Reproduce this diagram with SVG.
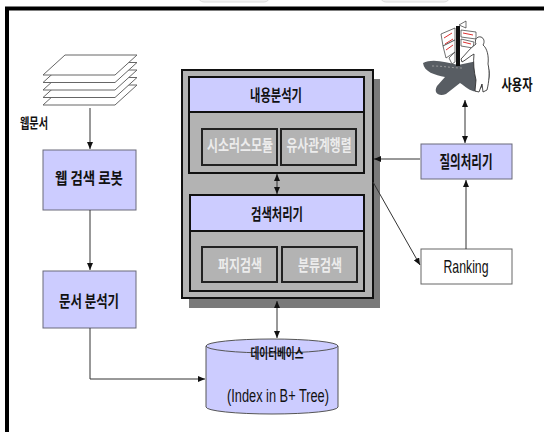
<svg xmlns="http://www.w3.org/2000/svg" width="544" height="432" viewBox="0 0 544 432">
  <defs>
    <marker id="arr" markerWidth="7" markerHeight="6" refX="7" refY="3" orient="auto-start-reverse" markerUnits="userSpaceOnUse">
      <path d="M0,0 L7,3 L0,6 z" fill="#111"/>
    </marker>
    <style>
      .lav { fill: #ccccff; stroke: #6a6a7a; stroke-width: 1; }
      .panel { fill: #b3b3b3; stroke: #111; stroke-width: 2; }
      .grp { fill: none; stroke: #111; stroke-width: 2; }
      .sub { fill: #b3b3b3; stroke: #222; stroke-width: 2; }
      .ko { font-family: "Noto Sans CJK KR", "DejaVu Sans", sans-serif; font-weight: 700; fill: #111; text-anchor: middle; }
      .sk { font-family: "Noto Sans CJK KR", "DejaVu Sans", sans-serif; font-weight: 700; fill: #ececec; text-anchor: middle; }
      .en { font-family: "Liberation Sans Narrow", "Liberation Sans", sans-serif; fill: #111; text-anchor: middle; }
      .page { fill: #fff; stroke: #666; stroke-width: 1; }
      .conn { fill: none; stroke: #333; stroke-width: 1; }
    </style>
  </defs>

  <rect width="544" height="432" fill="#fff"/>

  <!-- faint tabs at the top edge -->
  <rect x="198" y="-10" width="72" height="12" rx="6" fill="#f2f2f2" stroke="#dcdcdc"/>
  <rect x="380" y="-10" width="70" height="12" rx="6" fill="#f2f2f2" stroke="#dcdcdc"/>

  <!-- frame -->
  <path d="M7,432 V8.5 H544" fill="none" stroke="#000" stroke-width="4"/>

  <!-- web documents stack -->
  <g id="web-docs">
    <polygon class="page" points="65,85 137,85 115,105 43,105"/>
    <polygon class="page" points="65,77.5 137,77.5 115,97.5 43,97.5"/>
    <polygon class="page" points="65,70 137,70 115,90 43,90"/>
    <polygon class="page" points="65,62.5 137,62.5 115,82.5 43,82.5"/>
    <polygon class="page" points="65,55 137,55 115,75 43,75"/>
    <text class="ko" x="34" y="128" font-size="14" textLength="28" lengthAdjust="spacingAndGlyphs">웹문서</text>
  </g>

  <g id="web-robot">
    <rect class="lav" x="43" y="150" width="93" height="60"/>
    <text class="ko" x="89" y="184" font-size="16" textLength="68" lengthAdjust="spacingAndGlyphs">웹 검색 로봇</text>
  </g>

  <g id="doc-analyzer">
    <rect class="lav" x="43" y="271" width="93" height="57"/>
    <text class="ko" x="89" y="307" font-size="16" textLength="60" lengthAdjust="spacingAndGlyphs">문서 분석기</text>
  </g>

  <!-- central engine panel -->
  <g id="engine">
    <rect x="189" y="79" width="191" height="229" fill="#7a7a7a"/>
    <rect class="panel" x="182" y="70" width="191" height="228"/>

    <g id="content-analyzer">
      <rect class="lav" x="189" y="77" width="175" height="35" style="stroke:#111;stroke-width:2"/>
      <rect class="grp" x="189" y="77" width="175" height="96"/>
      <text class="ko" x="276" y="101" font-size="16" textLength="52" lengthAdjust="spacingAndGlyphs">내용분석기</text>
      <rect class="sub" x="202" y="129" width="75" height="36"/>
      <text class="sk" x="240" y="151" font-size="16" textLength="66" lengthAdjust="spacingAndGlyphs">시소러스모듈</text>
      <rect class="sub" x="281" y="129" width="75" height="36"/>
      <text class="sk" x="319" y="151" font-size="16" textLength="65" lengthAdjust="spacingAndGlyphs">유사관계행렬</text>
    </g>

    <g id="search-processor">
      <rect class="lav" x="190" y="195" width="174" height="36" style="stroke:#111;stroke-width:2"/>
      <rect class="grp" x="190" y="195" width="174" height="96"/>
      <text class="ko" x="277" y="220" font-size="16" textLength="52" lengthAdjust="spacingAndGlyphs">검색처리기</text>
      <rect class="sub" x="202" y="247" width="75" height="35"/>
      <text class="sk" x="240" y="271" font-size="16" textLength="44" lengthAdjust="spacingAndGlyphs">퍼지검색</text>
      <rect class="sub" x="282" y="247" width="75" height="35"/>
      <text class="sk" x="320" y="271" font-size="16" textLength="44" lengthAdjust="spacingAndGlyphs">분류검색</text>
    </g>
  </g>

  <!-- database cylinder -->
  <g id="database">
    <path d="M206,346 V407 A66,7 0 0 0 338,407 V346" fill="#ccccff" stroke="#555" stroke-width="1"/>
    <ellipse cx="272" cy="346" rx="66" ry="7" fill="#ccccff" stroke="#555" stroke-width="1"/>
    <text class="ko" x="277" y="358" font-size="14" textLength="53" lengthAdjust="spacingAndGlyphs">데이터베이스</text>
    <text class="en" x="278" y="402" font-size="18" textLength="102" lengthAdjust="spacingAndGlyphs">(Index in B+ Tree)</text>
  </g>

  <!-- user clip-art -->
  <g id="user">
    <!-- ground shadow -->
    <path d="M423,63 C432,58 446,62 458,65 L482,60 C489,62 491,72 489,80 L478,91 C472,93 466,87 460,83 L446,94 C439,97 433,93 437,86 L445,77 C435,75 424,72 423,63 z" fill="#585d63"/>
    <path d="M432,66 C444,66 452,68 462,68" fill="none" stroke="#aaa" stroke-width="0.8" stroke-dasharray="2,2"/>
    <!-- signpost -->
    <rect x="456" y="26" width="4" height="40" fill="#111"/>
    <polygon points="441,34 455,28 455,40 443,46" fill="#fff" stroke="#333" stroke-width="0.7"/>
    <polygon points="443,46 455,40 455,52 446,58" fill="#fff" stroke="#333" stroke-width="0.7"/>
    <polygon points="449,58 455,52 455,62 452,64" fill="#fff" stroke="#333" stroke-width="0.7"/>
    <polygon points="461,30 476,32 476,39 461,37" fill="#fff" stroke="#333" stroke-width="0.7"/>
    <polygon points="461,39 474,42 473,48 461,46" fill="#fff" stroke="#333" stroke-width="0.7"/>
    <polygon points="459,25 466,21 466,28" fill="#fff" stroke="#333" stroke-width="0.7"/>
    <path d="M444,38 L452,33 M445,44 L453,39 M446,50 L453,45 M463,33 L473,35 M463,42 L471,44" stroke="#d33" stroke-width="1"/>
    <!-- person -->
    <path d="M476,44 C474,40 477,36 481,37 C484,38 485,42 483,45 C487,48 489,56 488,64 C490,72 489,82 487,90 L483,92 L482,84 L479,92 L475,91 L476,80 C474,72 473,62 474,54 C470,56 466,60 462,62 L461,59 C466,54 470,48 476,44 z" fill="#fff" stroke="#222" stroke-width="0.8"/>
    <text class="ko" x="517" y="90" font-size="15" textLength="31" lengthAdjust="spacingAndGlyphs">사용자</text>
  </g>

  <g id="query-processor">
    <rect class="lav" x="421" y="144" width="91" height="35"/>
    <text class="ko" x="466" y="168" font-size="17" textLength="53" lengthAdjust="spacingAndGlyphs">질의처리기</text>
  </g>

  <g id="ranking">
    <rect x="421" y="249" width="91" height="35" fill="#fff" stroke="#666" stroke-width="1"/>
    <text class="en" x="466" y="273" font-size="19" textLength="45" lengthAdjust="spacingAndGlyphs">Ranking</text>
  </g>

  <!-- connectors -->
  <g id="connectors">
    <path class="conn" d="M90,108 V149" marker-end="url(#arr)"/>
    <path class="conn" d="M90,210 V270" marker-end="url(#arr)"/>
    <path class="conn" d="M90,328 V379 H205" marker-end="url(#arr)"/>
    <path class="conn" d="M277,301 V338" marker-start="url(#arr)" marker-end="url(#arr)"/>
    <path class="conn" d="M277,174 V194" marker-start="url(#arr)" marker-end="url(#arr)"/>
    <path class="conn" d="M465,100 V143" marker-start="url(#arr)" marker-end="url(#arr)"/>
    <path class="conn" d="M466,249 V180" marker-end="url(#arr)"/>
    <path class="conn" d="M420,159 H374" marker-end="url(#arr)"/>
    <path class="conn" d="M373,182 L420,265" marker-end="url(#arr)"/>
  </g>
</svg>
